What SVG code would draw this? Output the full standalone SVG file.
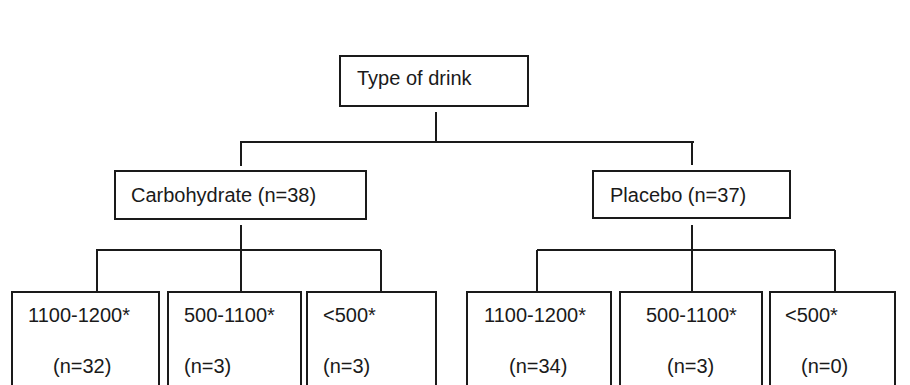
<svg xmlns="http://www.w3.org/2000/svg" width="910" height="385" viewBox="0 0 910 385">
<style>
.box{fill:#fff;stroke:#1a1a1a;stroke-width:2}
.ln{fill:none;stroke:#1a1a1a;stroke-width:2}
text{font-family:"Liberation Sans",Arial,sans-serif;font-size:20px;fill:#1a1a1a}
</style>
<rect width="910" height="385" fill="#fff"/>
<g id="connectors">
<path class="ln" d="M436 112V142M240 142H694M241 142V166M692 142V165"/>
<path class="ln" d="M241 225V250M96 250H381M97 250V292M241 250V292M381 250V292"/>
<path class="ln" d="M692 225V250M537 250H835M537 250V292M692 250V292M835 250V292"/>
</g>
<g id="root"><rect class="box" x="340" y="56" width="188" height="50"/><text x="357" y="85">Type of drink</text></g>
<g id="carb"><rect class="box" x="115" y="171" width="251" height="48"/><text x="131" y="202">Carbohydrate (n=38)</text></g>
<g id="placebo"><rect class="box" x="593" y="171" width="197" height="47"/><text x="610" y="202">Placebo (n=37)</text></g>
<g id="c1"><rect class="box" x="12" y="292" width="147" height="100"/><text x="28" y="322">1100-1200*</text><text x="53" y="373">(n=32)</text></g>
<g id="c2"><rect class="box" x="168" y="292" width="133" height="100"/><text x="184" y="322">500-1100*</text><text x="184" y="373">(n=3)</text></g>
<g id="c3"><rect class="box" x="307" y="292" width="129" height="100"/><text x="323" y="322">&lt;500*</text><text x="323" y="373">(n=3)</text></g>
<g id="p1"><rect class="box" x="467" y="292" width="144" height="100"/><text x="484" y="322">1100-1200*</text><text x="509" y="373">(n=34)</text></g>
<g id="p2"><rect class="box" x="620" y="292" width="142" height="100"/><text x="646" y="322">500-1100*</text><text x="667" y="373">(n=3)</text></g>
<g id="p3"><rect class="box" x="770" y="292" width="125" height="100"/><text x="785" y="322">&lt;500*</text><text x="801" y="373">(n=0)</text></g>
</svg>
